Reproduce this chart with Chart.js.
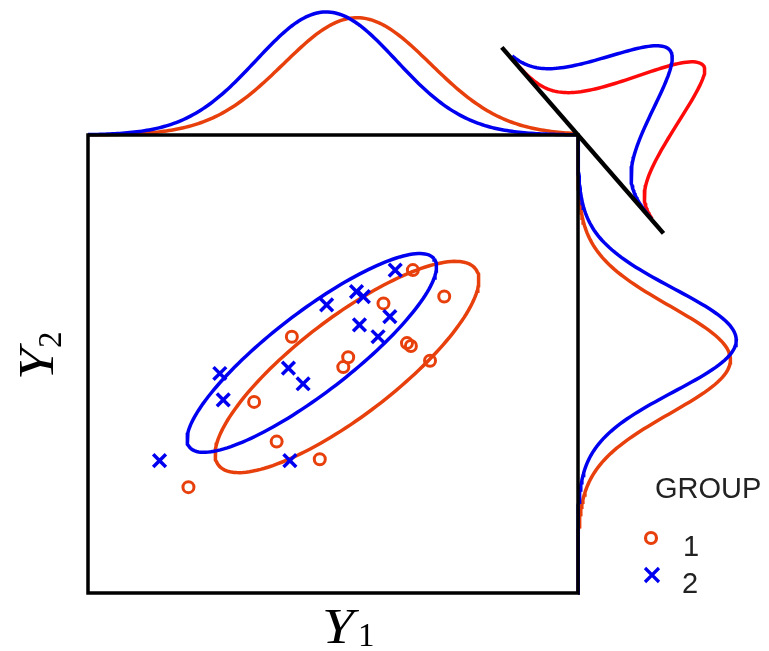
<!DOCTYPE html>
<html>
<head>
<meta charset="utf-8">
<script src="https://cdn.jsdelivr.net/npm/chart.js@4.4.1/dist/chart.umd.min.js"></script>
<style>
  body { margin: 0; background: #fff; }
</style>
</head>
<body>
<canvas id="myChart" width="769" height="651"></canvas>
<script>
// group 1 = circles, group 2 = crosses
const group1X = [6.63, 7.27, 6.03, 4.16, 6.51, 6.59, 5.31, 5.21, 6.98, 3.39, 3.85, 4.73, 2.05];
const group1Y = [6.59, 6.05, 5.91, 5.23, 5.10, 5.04, 4.81, 4.61, 4.74, 3.90, 3.09, 2.73, 2.16];
const group2X = [6.27, 5.48, 5.62, 4.87, 6.16, 5.54, 5.92, 4.09, 4.39, 2.69, 2.76, 4.12, 1.46];
const group2Y = [6.59, 6.15, 6.05, 5.88, 5.64, 5.47, 5.23, 4.59, 4.27, 4.48, 3.94, 2.70, 2.70];

// ellipses [group1, group2]: semi axes and rotation (deg)
const ellipseA = [3.30, 3.15];
const ellipseB = [1.00, 0.82];
const ellipseAngle = [37.4, 37.6];

// marginal densities [group1, group2]
const topMean = [5.49, 4.86];
const topSd = [1.50, 1.43];
const rightMean = [4.76, 5.16];
const rightSd = [1.09, 1.05];
const topScale = 9.0;
const rightScale = 8.5;

// projection on the diagonal [group1, group2]
const diagAngle = 49;
const diagCenter = [0.61, -0.08];
const diagPeak = [2.86, 2.55];
const diagSdLeft = [0.71, 0.71];
const diagSdRight = [0.53, 0.67];
const diagRange = [-2.37, 2.66];

const xMin = 0, xMax = 10, yMin = 0, yMax = 9.347;

const orange = '#e8400c';
const blue = '#0000f0';
const red = '#ff0a0a';

function toPoints(xs, ys) {
    return xs.map((x, i) => ({x: x, y: ys[i]}));
}
function mean(a) {
    return a.reduce((s, v) => s + v, 0) / a.length;
}
function pdf(v, m, s) {
    return Math.exp(-0.5 * ((v - m) / s) ** 2) / (s * Math.sqrt(2 * Math.PI));
}

function ellipse(cx, cy, a, b, deg) {
    const th = deg * Math.PI / 180;
    const pts = [];
    for (let i = 0; i <= 160; i++) {
        const t = i / 160 * 2 * Math.PI;
        pts.push({
            x: cx + a * Math.cos(th) * Math.cos(t) - b * Math.sin(th) * Math.sin(t),
            y: cy + a * Math.sin(th) * Math.cos(t) + b * Math.cos(th) * Math.sin(t)
        });
    }
    return pts;
}

function topCurve(g) {
    const pts = [];
    for (let x = xMin; x <= xMax + 1e-9; x += 0.05) {
        pts.push({x: x, y: yMax + topScale * pdf(x, topMean[g], topSd[g])});
    }
    return pts;
}
function rightCurve(g) {
    const pts = [];
    for (let y = yMin; y <= yMax + 1e-9; y += 0.05) {
        pts.push({x: xMax + rightScale * pdf(y, rightMean[g], rightSd[g]), y: y});
    }
    return pts;
}

// diagonal axis through the top right corner
const th = diagAngle * Math.PI / 180;
const ux = Math.cos(th), uy = -Math.sin(th);
const nx = Math.sin(th), ny = Math.cos(th);
function diagPoint(u, h) {
    return {x: xMax + ux * u + nx * h, y: yMax + uy * u + ny * h};
}
function diagCurve(g) {
    const pts = [];
    for (let u = -2.1; u <= 2.3; u += 0.03) {
        const s = u < diagCenter[g] ? diagSdLeft[g] : diagSdRight[g];
        pts.push(diagPoint(u, diagPeak[g] * Math.exp(-0.5 * ((u - diagCenter[g]) / s) ** 2)));
    }
    return pts;
}

function line(pts, color, width) {
    return {
        type: 'scatter', data: pts, showLine: true, borderColor: color,
        borderWidth: width, pointRadius: 0, clip: false, tension: 0
    };
}

const boxPts = [
    {x: xMin, y: yMin}, {x: xMax, y: yMin}, {x: xMax, y: yMax},
    {x: xMin, y: yMax}, {x: xMin, y: yMin}
];

const labels = {
    id: 'labels',
    afterDraw(chart) {
        const ctx = chart.ctx;
        ctx.save();
        ctx.fillStyle = '#000';
        ctx.textBaseline = 'alphabetic';
        // Y1
        ctx.save();
        ctx.translate(322, 643);
        ctx.scale(1.15, 1);
        ctx.font = 'italic 50px "Liberation Serif"';
        ctx.fillText('Y', 0, 0);
        ctx.restore();
        ctx.font = '33px "Liberation Serif"';
        ctx.fillText('1', 358, 646);
        // Y2
        ctx.save();
        ctx.translate(53, 380);
        ctx.rotate(-Math.PI / 2);
        ctx.save();
        ctx.scale(1.15, 1);
        ctx.font = 'italic 50px "Liberation Serif"';
        ctx.fillText('Y', 0, 0);
        ctx.restore();
        ctx.font = '33px "Liberation Serif"';
        ctx.fillText('2', 32, 8);
        ctx.restore();
        // legend
        ctx.fillStyle = '#222';
        ctx.font = '29px "Liberation Sans"';
        ctx.fillText('GROUP', 655, 498);
        ctx.fillText('1', 683, 556);
        ctx.fillText('2', 682, 593);
        ctx.lineWidth = 3.2;
        ctx.strokeStyle = orange;
        ctx.beginPath();
        ctx.arc(651, 538, 5.5, 0, 2 * Math.PI);
        ctx.stroke();
        ctx.strokeStyle = blue;
        ctx.beginPath();
        ctx.moveTo(645, 568); ctx.lineTo(659, 582);
        ctx.moveTo(659, 568); ctx.lineTo(645, 582);
        ctx.stroke();
        ctx.restore();
    }
};

const ctx1 = document.getElementById('myChart').getContext('2d');

new Chart(ctx1, {
    type: 'scatter',
    data: {
        datasets: [
            Object.assign(line(boxPts, '#000', 3.5), {borderCapStyle: 'square', borderJoinStyle: 'miter'}),
            line([diagPoint(diagRange[0], 0), diagPoint(diagRange[1], 0)], '#000', 4.5),
            {
                data: toPoints(group2X, group2Y), pointStyle: 'crossRot', pointRadius: 9,
                borderColor: blue, borderWidth: 3.5, clip: false
            },
            {
                data: toPoints(group1X, group1Y), pointStyle: 'circle', pointRadius: 5.5,
                borderColor: orange, backgroundColor: 'rgba(0,0,0,0)', borderWidth: 3, clip: false
            },
            line(ellipse(mean(group2X), mean(group2Y), ellipseA[1], ellipseB[1], ellipseAngle[1]), blue, 3.5),
            line(ellipse(mean(group1X), mean(group1Y), ellipseA[0], ellipseB[0], ellipseAngle[0]), orange, 3.5),
            line(topCurve(1), blue, 3.5),
            line(topCurve(0), orange, 3.5),
            line(rightCurve(1), blue, 3.5),
            line(rightCurve(0), orange, 3.5),
            line(diagCurve(1), blue, 3.5),
            line(diagCurve(0), red, 3.5)
        ]
    },
    options: {
        responsive: false,
        animation: false,
        layout: {padding: {left: 88, right: 191, top: 135, bottom: 58}},
        scales: {
            x: {type: 'linear', min: xMin, max: xMax, display: false},
            y: {type: 'linear', min: yMin, max: yMax, display: false}
        },
        plugins: {legend: {display: false}, tooltip: {enabled: false}}
    },
    plugins: [labels]
});
</script>
</body>
</html>
